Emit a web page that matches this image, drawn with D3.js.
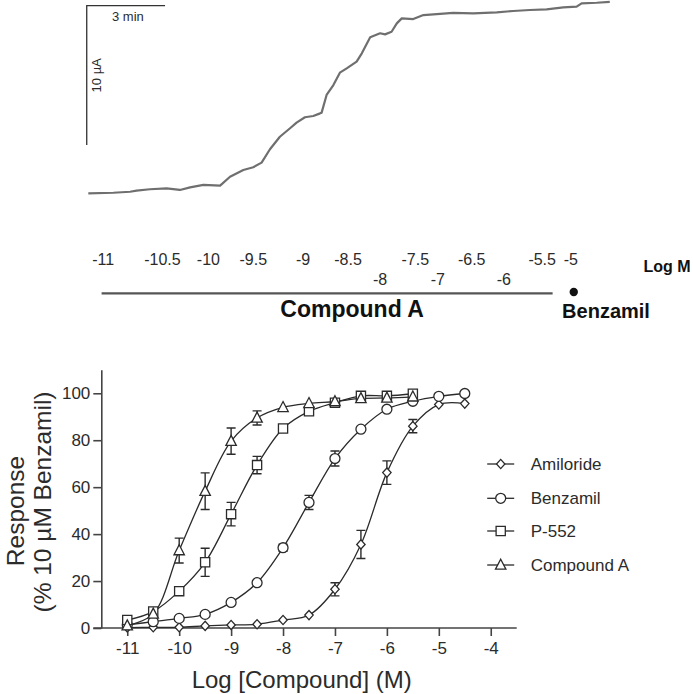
<!DOCTYPE html>
<html><head><meta charset="utf-8">
<script src="https://cdn.jsdelivr.net/npm/d3@7"></script>
<style>body{margin:0;background:#fff}svg{display:block;font-family:"Liberation Sans",Arial,sans-serif}</style>
</head><body>
<svg id="c" width="693" height="694"></svg>
<script>
// ---------- Top panel: current trace (time in min, current in µA) ----------
const traceTime = [0,0.96,1.60,1.85,2.36,3.00,3.51,3.90,4.41,5.05,5.43,5.94,6.32,6.64,6.96,7.34,7.73,7.98,8.30,8.62,8.88,8.94,9.13,9.39,9.64,9.90,10.28,10.48,10.80,11.18,11.37,11.62,11.82,12.01,12.45,12.84,13.35,13.98,14.75,15.65,16.28,16.92,17.56,18.20,18.71,18.90,19.48,19.98];
const traceCurrent = [0,0.04,0.11,0.19,0.29,0.36,0.24,0.43,0.60,0.55,1.19,1.67,1.87,2.20,3.16,4.06,4.67,5.07,5.46,5.55,5.74,5.79,7.06,7.77,8.66,8.97,9.45,10.05,11.20,11.49,11.41,11.60,12.20,12.56,12.51,12.80,12.87,12.96,12.92,12.99,13.09,13.16,13.21,13.35,13.40,13.64,13.68,13.75];
const doseLabels = ["-11","-10.5","-10","-9.5","-9","-8.5","-8","-7.5","-7","-6.5","-6","-5.5"];
const doseTimes  = [0.57,2.84,4.60,6.32,8.23,9.95,11.18,12.53,13.39,14.69,15.92,17.39];
const doseLowered = ["-8","-7","-6"];
const compoundBar = [0.51, 17.79];
const benzamilLabel = "-5";
const benzamilTime = 18.60;

// ---------- Bottom panel: concentration-response ----------
const logConc = [-11,-10.5,-10,-9.5,-9,-8.5,-8,-7.5,-7,-6.5,-6,-5.5,-5,-4.5];
const seriesNames = ["Amiloride","Benzamil","P-552","Compound A"];
const amiloride    = [0.2,0.3,0.3,0.9,1.3,1.6,3.4,5.5,16.5,35.6,66.2,86,95.2,95.6];
const amilorideSem = [0,0,0,0,0,0,0,0,2.8,6,5,2.8,0,0];
const benzamil     = [1.3,2.7,4.1,5.8,10.9,19.3,34.2,53.5,72.2,84.7,93.2,96.6,98.7,99.9];
const benzamilSem  = [0,0,0,0,0,0,1.5,3,3.2,0,0,0,0,0];
const p552         = [3.4,7,15.7,28,48.5,69.4,85,92.3,96,98.9,98.9,99.8];
const p552Sem      = [0,0,1,6,5,3.7,0,0,0,0,0,0];
const compoundA    = [1,6,33,58.3,79.6,89.5,94,95.7,96.5,97.8,98,98.5];
const compoundASem = [0,0,5.3,7.8,5.6,3,0,0,0,0,0,0];
const xTicks = [-11,-10,-9,-8,-7,-6,-5,-4];
const yTicks = [0,20,40,60,80,100];

const svg = d3.select("#c");
const ink = "#2b2b2b";

// ===== Top trace =====
const tScale = d3.scaleLinear().domain([0,20]).range([88.3,610.3]);
const iScale = d3.scaleLinear().domain([0,13.75]).range([193.3,1.8]);
const trace = traceTime.map((t,i)=>[t,traceCurrent[i]]);
svg.append("path").datum(trace)
  .attr("d", d3.line().x(d=>tScale(d[0])).y(d=>iScale(d[1])))
  .attr("fill","none").attr("stroke","#6f6f6f").attr("stroke-width",2.2).attr("stroke-linejoin","round");

// scale bar (3 min, 10 µA)
const sb0t = -0.06, sb0i = 13.47;
svg.append("path")
  .attr("d", `M${tScale(sb0t+3)},${iScale(sb0i)}H${tScale(sb0t)}V${iScale(sb0i-10)}`)
  .attr("fill","none").attr("stroke","#333").attr("stroke-width",1.3);
svg.append("text").attr("x",(tScale(sb0t)+tScale(sb0t+3))/2+2).attr("y",iScale(sb0i)+15)
  .attr("text-anchor","middle").attr("font-size",13).attr("fill",ink).text("3 min");
svg.append("text").attr("transform",`translate(${tScale(sb0t)+14},${iScale(sb0i-5)+0}) rotate(-90)`)
  .attr("text-anchor","middle").attr("font-size",13).attr("fill",ink).text("10 µA");

// dose labels
svg.append("g").selectAll("text").data(doseLabels).join("text")
  .attr("x",(d,i)=>tScale(doseTimes[i]))
  .attr("y",d=>doseLowered.includes(d)?285:265)
  .attr("text-anchor","middle").attr("font-size",16).attr("fill",ink).text(d=>d);
svg.append("text").attr("x",tScale(benzamilTime)-3).attr("y",265)
  .attr("text-anchor","middle").attr("font-size",16).attr("fill",ink).text(benzamilLabel);
svg.append("text").attr("x",667).attr("y",271.5).attr("text-anchor","middle")
  .attr("font-size",16).attr("font-weight","bold").attr("fill","#111").text("Log M");
svg.append("line").attr("x1",tScale(compoundBar[0])).attr("x2",tScale(compoundBar[1]))
  .attr("y1",293.3).attr("y2",293.3).attr("stroke","#555").attr("stroke-width",2.3);
svg.append("circle").attr("cx",tScale(benzamilTime)).attr("cy",292).attr("r",4.2).attr("fill","#111");
svg.append("text").attr("x",(tScale(compoundBar[0])+tScale(compoundBar[1]))/2+25).attr("y",316.7)
  .attr("text-anchor","middle").attr("font-size",23).attr("font-weight","bold").attr("fill","#111").text("Compound A");
svg.append("text").attr("x",606).attr("y",318)
  .attr("text-anchor","middle").attr("font-size",20).attr("font-weight","bold").attr("fill","#111").text("Benzamil");

// ===== Bottom dose-response =====
const x = d3.scaleLinear().domain([-11.5,-3.5]).range([101.3,516.7]);
const y = d3.scaleLinear().domain([0,110]).range([628,369.8]);

const xAxis = svg.append("g").attr("transform","translate(0,628)")
  .call(d3.axisBottom(x).tickValues(xTicks).tickSize(8).tickSizeOuter(0).tickPadding(6).tickFormat(d=>d));
const yAxis = svg.append("g").attr("transform","translate(101.3,0)")
  .call(d3.axisLeft(y).tickValues(yTicks).tickSize(8).tickSizeOuter(0).tickPadding(3));
[xAxis,yAxis].forEach(g=>{
  g.select(".domain").attr("stroke","#444").attr("stroke-width",1.6);
  g.selectAll(".tick line").attr("stroke","#444").attr("stroke-width",1.6);
  g.selectAll(".tick text").attr("font-size",17).attr("fill",ink).attr("font-family","Liberation Sans, Arial, sans-serif");
});
xAxis.select(".domain").attr("d",`M${x(-11.5)-8},0H${x(-3.5)}`);

svg.append("text").attr("x",301.7).attr("y",688).attr("text-anchor","middle")
  .attr("font-size",24).attr("fill",ink).text("Log [Compound] (M)");
svg.append("text").attr("transform","translate(24,511) rotate(-90)").attr("text-anchor","middle")
  .attr("font-size",24.5).attr("fill",ink).text("Response");
svg.append("text").attr("transform","translate(51,502) rotate(-90)").attr("text-anchor","middle")
  .attr("font-size",24.5).attr("fill",ink).text("(% 10 µM Benzamil)");

const series = [
  {name:seriesNames[0], vals:amiloride, sem:amilorideSem, shape:"diamond"},
  {name:seriesNames[1], vals:benzamil, sem:benzamilSem, shape:"circle"},
  {name:seriesNames[2], vals:p552, sem:p552Sem, shape:"square"},
  {name:seriesNames[3], vals:compoundA, sem:compoundASem, shape:"triangle"}
];
function marker(g, shape){
  const s = g.append("path").attr("fill","#fff").attr("stroke",ink).attr("stroke-width",1.3);
  if(shape==="circle") s.attr("d", d3.symbol(d3.symbolCircle, 78)());
  if(shape==="square") s.attr("d","M-4.6,-4.6H4.6V4.6H-4.6Z");
  if(shape==="triangle") s.attr("d","M0,-5.8L5.2,4.2H-5.2Z");
  if(shape==="diamond") s.attr("d","M0,-4.6L4.2,0L0,4.6L-4.2,0Z");
  return s;
}
const line = d3.line().x(d=>x(d[0])).y(d=>y(d[1])).curve(d3.curveCatmullRom.alpha(0.5));
const plot = svg.append("g");
series.forEach(s=>{
  const pts = s.vals.map((v,i)=>[logConc[i],v,s.sem[i]]);
  s.pts = pts;
  plot.append("path").datum(pts).attr("d",line).attr("fill","none").attr("stroke",ink).attr("stroke-width",1.3);
});
series.forEach(s=>{
  const eb = plot.append("g");
  s.pts.filter(p=>p[2]>0).forEach(p=>{
    const cx=x(p[0]), y1=y(p[1]+p[2]), y2=y(p[1]-p[2]);
    eb.append("path").attr("d",`M${cx},${y1}V${y2}M${cx-4.5},${y1}H${cx+4.5}M${cx-4.5},${y2}H${cx+4.5}`)
      .attr("stroke",ink).attr("stroke-width",1.4).attr("fill","none");
  });
  s.pts.forEach(p=>{
    const g = plot.append("g").attr("transform",`translate(${x(p[0])},${y(p[1])})`);
    marker(g,s.shape);
  });
});

// legend
const leg = svg.append("g");
const legY = [464,498.3,531,565];
series.forEach((s,i)=>{
  const g = leg.append("g").attr("transform",`translate(500.7,${legY[i]})`);
  g.append("line").attr("x1",-13.5).attr("x2",13.5).attr("stroke",ink).attr("stroke-width",1.3);
  marker(g,s.shape);
  leg.append("text").attr("x",530.7).attr("y",legY[i]+6).attr("font-size",17).attr("fill",ink).text(s.name);
});
</script>
</body></html>
